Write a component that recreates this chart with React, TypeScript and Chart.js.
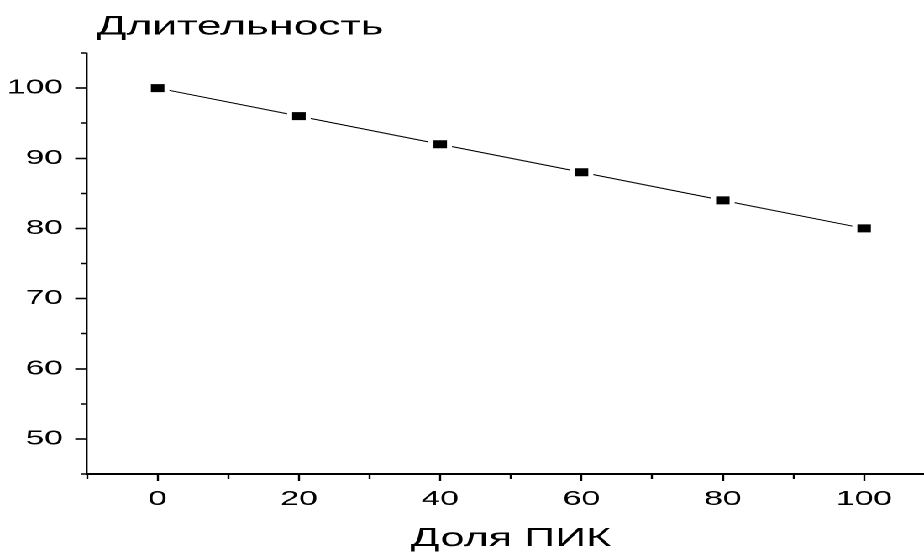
import React, { useEffect, useRef } from "react";
import { Chart, registerables } from "chart.js";

Chart.register(...registerables);

// ---- data ----
const shareValues = [0, 20, 40, 60, 80, 100];
const durationValues = [100, 96, 92, 88, 84, 80];
const xLabelTicks = [0, 20, 40, 60, 80, 100];
const yLabelTicks = [50, 60, 70, 80, 90, 100];
const xTitle = "Доля ПИК";
const yTitle = "Длительность";

// ---- layout ----
const STRETCH = 1.68;
const CANVAS_W = 560;
const CANVAS_H = 553;
const TITLE_SHIFT = 5.6;
const FONT = "'Liberation Sans', Arial, sans-serif";

const titleShift = {
  id: "titleShift",
  afterLayout(chart: any) {
    const t = chart.titleBlock;
    if (t) {
      t.left += TITLE_SHIFT;
      t.right += TITLE_SHIFT;
    }
  },
};

export default function App() {
  const ref = useRef<HTMLCanvasElement | null>(null);

  useEffect(() => {
    if (!ref.current) return;
    const points = shareValues.map((x, i) => ({ x, y: durationValues[i] }));
    const chart = new Chart(ref.current, {
      type: "line",
      data: {
        datasets: [
          {
            data: points,
            borderColor: "#000",
            borderWidth: 1,
            tension: 0,
            pointStyle: "rect",
            pointRadius: 7.8,
            pointBackgroundColor: "#000",
            pointBorderColor: "#fff",
            pointBorderWidth: 3,
          },
        ],
      },
      plugins: [titleShift],
      options: {
        animation: false,
        responsive: false,
        devicePixelRatio: 2,
        events: [],
        layout: { autoPadding: false, padding: { left: 0, right: 3.6, top: 0, bottom: 0 } },
        plugins: {
          legend: { display: false },
          tooltip: { enabled: false },
          title: {
            display: true,
            text: yTitle,
            align: "start",
            fullSize: false,
            color: "#000",
            font: { family: FONT, size: 26.4, weight: "normal", lineHeight: 1 },
            padding: { top: 14.2, bottom: 12.4 },
          },
        },
        scales: {
          x: {
            type: "linear",
            min: -10,
            max: 110,
            afterFit: (s: any) => {
              s.height = 79;
              s.paddingLeft = 0;
              s.paddingRight = 0;
            },
            ticks: {
              stepSize: 10,
              autoSkip: false,
              maxRotation: 0,
              color: "#000",
              padding: 6.4,
              font: { family: FONT, size: 20 },
              callback: (v: any) => (xLabelTicks.includes(Number(v)) ? String(v) : ""),
            },
            grid: {
              drawOnChartArea: false,
              drawTicks: true,
              tickLength: 7,
              tickColor: "#000",
              tickWidth: 1.2,
              tickBorderDash: (ctx: any) =>
                ctx.tick && xLabelTicks.includes(ctx.tick.value) ? [] : [4, 20],
            },
            border: { display: true, color: "#000", width: 2 },
            title: {
              display: true,
              text: xTitle,
              color: "#000",
              font: { family: FONT, size: 25.7, lineHeight: 1 },
              padding: { top: 0, bottom: 1 },
            },
          },
          y: {
            type: "linear",
            min: 45,
            max: 105,
            afterFit: (s: any) => {
              s.width = 51.8;
              s.paddingTop = 0;
              s.paddingBottom = 0;
            },
            ticks: {
              stepSize: 5,
              autoSkip: false,
              color: "#000",
              padding: 7.3,
              font: { family: FONT, size: 20 },
              callback: (v: any) => (yLabelTicks.includes(Number(v)) ? String(v) : ""),
            },
            grid: {
              drawOnChartArea: false,
              drawTicks: true,
              tickLength: 7,
              tickColor: "#000",
              tickWidth: 1.6,
              tickBorderDash: (ctx: any) =>
                ctx.tick && yLabelTicks.includes(ctx.tick.value) ? [] : [0, 3.4, 20],
            },
            border: { display: true, color: "#000", width: 1.2 },
          },
        },
      },
    });
    return () => chart.destroy();
  }, []);

  return (
    <div
      style={{
        position: "fixed",
        left: 0,
        top: 0,
        width: CANVAS_W,
        height: CANVAS_H,
        transform: `scaleX(${STRETCH})`,
        transformOrigin: "0 0",
        background: "#fff",
      }}
    >
      <canvas
        ref={ref}
        width={CANVAS_W}
        height={CANVAS_H}
        style={{ display: "block", width: `${CANVAS_W}px`, height: `${CANVAS_H}px` }}
      />
    </div>
  );
}
